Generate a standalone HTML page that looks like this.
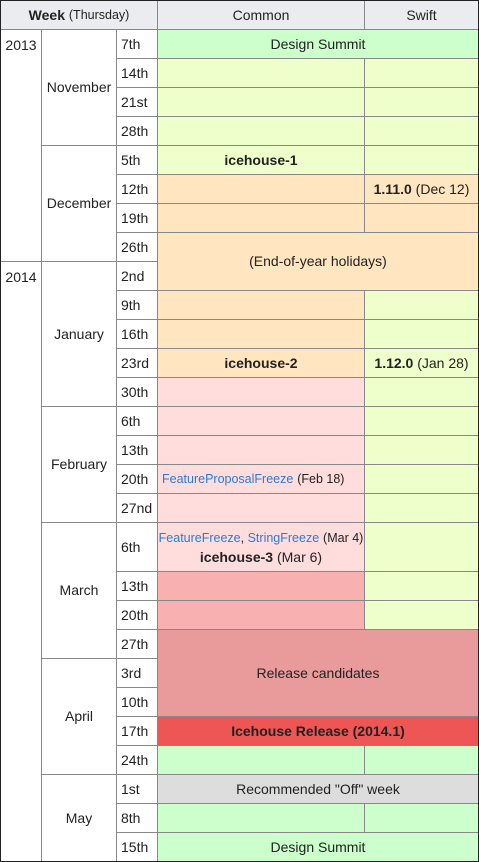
<!DOCTYPE html>
<html><head><meta charset="utf-8"><style>
body{margin:0;width:479px;height:862px;background:#fff;font-family:"Liberation Sans",Arial,sans-serif;font-size:14px;color:#222;overflow:hidden;position:relative}
.c{position:absolute;box-sizing:border-box;border:1px solid #888;display:flex;align-items:center;justify-content:center;text-align:center;line-height:19px}
.t{align-items:flex-start;padding-top:6px}
.l{justify-content:flex-start;padding-left:4px}
a{color:#2a7bd6;text-decoration:none;font-size:12.5px}
.s{font-size:12.5px}
#frame{position:absolute;left:0;top:0;width:479px;height:862px;box-sizing:border-box;border:1px solid #222;pointer-events:none}
</style></head><body>
<div id="frame"></div>
<script>
const B=[29,58,87,116,145,174,203,232,261,290,319,348,377,406,435,464,493,522,571,600,629,658,687,716,745,774,803,832,861];
const X={y:0,m:41,w:116,c:157,s:364,e:478};
const G='#ccffcc',LG='#eeffcc',O='#ffe6c0',P='#ffdddd',DP='#f8b0b0',RC='#e99b9b',R='#ee5555',GR='#dddddd',H='#eaecf0';
function cell(x1,y1,x2,y2,bg,html,cls,name){
  const d=document.createElement('div');
  d.className='c '+(cls||'');
  d.style.left=x1+'px';d.style.top=y1+'px';
  d.style.width=(x2-x1+1)+'px';d.style.height=(y2-y1+1)+'px';
  if(bg)d.style.background=bg;
  d.innerHTML=html||'';
  
  
  document.body.insertBefore(d,document.getElementById('frame'));
}
cell(X.y,0,X.c,29,H,'<b>Week</b>&nbsp;<span class="s">(Thursday)</span>','','header-week');
cell(X.c,0,X.s,29,H,'Common','','header-common');
cell(X.s,0,X.e,29,H,'Swift','','header-swift');
cell(X.y,B[0],X.m,B[8],'','2013','t','year-2013');
cell(X.y,B[8],X.m,B[28],'','2014','t','year-2014');
const months=[['November',0,4],['December',4,8],['January',8,13],['February',13,17],['March',17,21],['April',21,25],['May',25,28]];
months.forEach(m=>cell(X.m,B[m[1]],X.w,B[m[2]],'',m[0],'','month-'+m[0].toLowerCase()));
const weeks=['7th','14th','21st','28th','5th','12th','19th','26th','2nd','9th','16th','23rd','30th','6th','13th','20th','27nd','6th','13th','20th','27th','3rd','10th','17th','24th','1st','8th','15th'];
weeks.forEach((w,i)=>cell(X.w,B[i],X.c,B[i+1],'',w,'l','week-'+w));
const common=[[1,1,LG,''],[2,1,LG,''],[3,1,LG,''],[4,1,LG,'<b>icehouse-1</b>'],[5,1,O,''],[6,1,O,''],[9,1,O,''],[10,1,O,''],[11,1,O,'<b>icehouse-2</b>'],[12,1,P,''],[13,1,P,''],[14,1,P,''],[15,1,P,'<a>FeatureProposalFreeze</a>&nbsp;<span class="s">(Feb 18)</span>'],[16,1,P,''],[17,1,P,'<div><a>FeatureFreeze</a><span class="s">, </span><a>StringFreeze</a> <span class="s">(Mar 4)</span><br><b>icehouse-3</b> (Mar 6)</div>'],[18,1,DP,''],[19,1,DP,''],[24,1,G,''],[26,1,G,'']];
common.forEach(c=>cell(X.c,B[c[0]],X.s,B[c[0]+c[1]],c[2],c[3],(c[0]==15?'l':''),'common-row-'+c[0]));
const swift=[[1,LG,''],[2,LG,''],[3,LG,''],[4,LG,''],[5,O,'<b>1.11.0</b>&nbsp;(Dec 12)'],[6,O,''],[9,LG,''],[10,LG,''],[11,LG,'<b>1.12.0</b>&nbsp;(Jan 28)'],[12,LG,''],[13,LG,''],[14,LG,''],[15,LG,''],[16,LG,''],[17,LG,''],[18,LG,''],[19,LG,''],[24,G,''],[26,G,'']];
swift.forEach(c=>cell(X.s,B[c[0]],X.e,B[c[0]+1],c[1],c[2],'','swift-row-'+c[0]));
const spans=[[0,1,G,'Design Summit'],[7,2,O,'(End-of-year holidays)'],[20,3,RC,'Release candidates'],[23,1,R,'<b>Icehouse Release (2014.1)</b>'],[25,1,GR,'Recommended "Off" week'],[27,1,G,'Design Summit']];
spans.forEach(c=>cell(X.c,B[c[0]],X.e,B[c[0]+c[1]],c[2],c[3],'','span-row-'+c[0]));
</script>
</body></html>
